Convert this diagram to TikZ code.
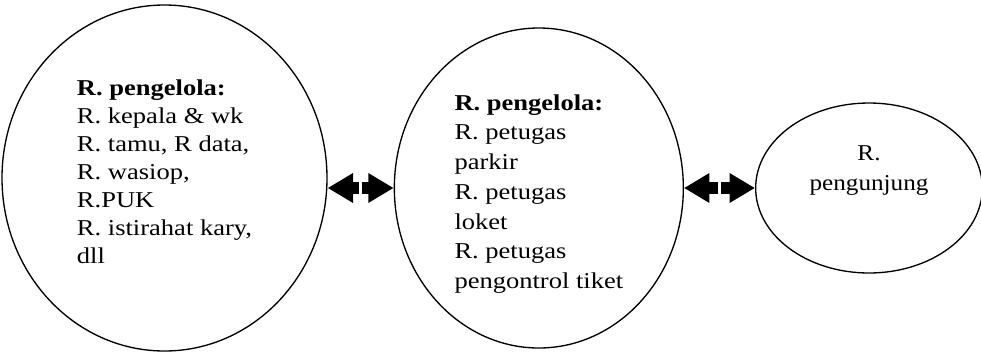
\documentclass[tikz,border=0pt]{standalone}
\usepackage{fontspec}
\setmainfont{Liberation Serif}
\usetikzlibrary{shapes.geometric,arrows.meta,positioning,calc}
\tikzset{
  room/.style = {draw=black, line width=1pt, ellipse, inner sep=0pt},
  roomtext/.style = {align=left, inner sep=0pt, xscale=1.17, font=\fontsize{17}{21}\selectfont},
  link/.style = {line width=9pt, -{Triangle[length=19pt, width=21pt]}, shorten <=1.1pt}
}

\begin{document}
\begin{tikzpicture}[x=0.75pt, y=-0.75pt]
            \useasboundingbox (0,0) rectangle (981,351);
            \node[room, minimum width=243.75pt, minimum height=259.5pt] (pengelola) at (164.5,178) {};
            \node[room, minimum width=216.75pt, minimum height=240pt, right=49.5pt of pengelola, yshift=-7.5pt] (petugas) {};
            \node[room, minimum width=170pt, minimum height=127.5pt, right=53.25pt of petugas] (pengunjung) {};
            \node[roomtext] (t1) at ([yshift=5pt]pengelola.center) {\textbf{R. pengelola:}\\R. kepala \& wk\\R. tamu, R data,\\R. wasiop,\\R.PUK\\R. istirahat kary,\\dll};
            \node[roomtext, font=\fontsize{17}{22.3}\selectfont] (t2) at ([yshift=-4.5pt]petugas.center) {\textbf{R. pengelola:}\\R. petugas\\parkir\\R. petugas\\loket\\R. petugas\\pengontrol tiket};
            \node[roomtext, align=center, xscale=0.95, font=\fontsize{17}{23}\selectfont] (t3) at ([yshift=13pt]pengunjung.center) {R.\\pengunjung};
            \coordinate (a1) at (pengelola.east |- petugas.west);
            \coordinate (m1) at ($(a1)!0.5!(petugas.west)$);
            \coordinate (m2) at ($(petugas.east)!0.5!(pengunjung.west)$);
            \draw[link] (m1) -- (a1);
            \draw[link] (m1) -- (petugas.west);
            \draw[link] (m2) -- (petugas.east);
            \draw[link] (m2) -- (pengunjung.west);
        \end{tikzpicture}
\end{document}
